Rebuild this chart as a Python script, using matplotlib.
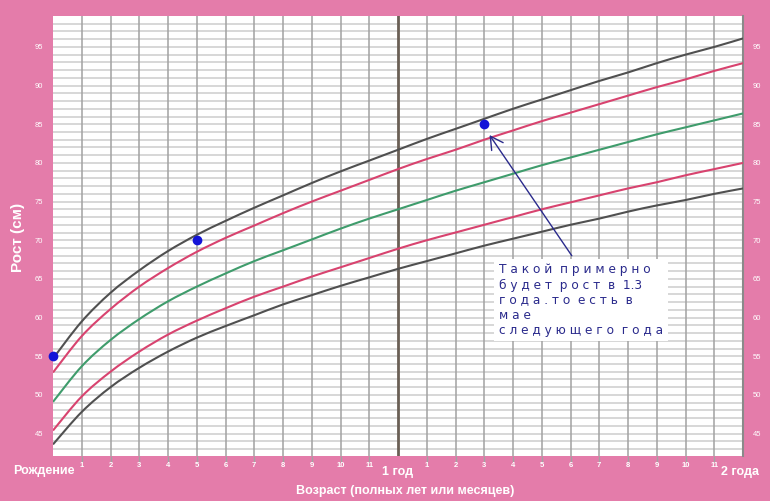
import numpy as np
import matplotlib.pyplot as plt
from matplotlib.path import Path
from matplotlib.patches import PathPatch

# возраст в месяцах и кривые роста (см)
months = np.arange(0, 25)
plus3 = [54.7, 59.5, 63.2, 66.1, 68.6, 70.7, 72.5, 74.2, 75.8, 77.4, 78.9, 80.3, 81.7,
         83.1, 84.4, 85.7, 87.0, 88.2, 89.4, 90.6, 91.7, 92.9, 94.0, 95.0, 96.1]
plus2 = [52.9, 57.6, 61.1, 64.0, 66.4, 68.5, 70.3, 71.9, 73.5, 75.0, 76.4, 77.8, 79.2,
         80.5, 81.7, 83.0, 84.2, 85.4, 86.5, 87.6, 88.7, 89.8, 90.8, 91.9, 92.9]
median = [49.1, 53.7, 57.1, 59.8, 62.1, 64.0, 65.7, 67.3, 68.7, 70.1, 71.5, 72.8, 74.0,
          75.2, 76.4, 77.5, 78.6, 79.7, 80.7, 81.7, 82.7, 83.7, 84.6, 85.5, 86.4]
minus2 = [45.4, 49.8, 53.0, 55.6, 57.8, 59.6, 61.2, 62.7, 64.0, 65.3, 66.5, 67.7, 68.9,
          70.0, 71.0, 72.0, 73.0, 74.0, 74.9, 75.8, 76.7, 77.5, 78.4, 79.2, 80.0]
minus3 = [43.6, 47.8, 51.0, 53.5, 55.6, 57.4, 58.9, 60.3, 61.7, 62.9, 64.1, 65.2, 66.3,
          67.3, 68.3, 69.3, 70.2, 71.1, 72.0, 72.8, 73.7, 74.5, 75.2, 76.0, 76.7]

# замеры ребёнка
pts_x = [0, 5, 15]
pts_y = [55, 70, 85]

ytick_vals = [45, 50, 55, 60, 65, 70, 75, 80, 85, 90, 95]
note_lines = ["Такой примерно", "будет рост в 1.3", "года.то есть в", "мае", "следующего года"]

pink = '#e47caa'
dark = '#505050'
red = '#d8436f'
green = '#3f9c6c'
navy = '#2a2a8c'

plt.rcParams['font.family'] = ['Liberation Sans', 'DejaVu Sans']


def smooth_curve(ax, xs, ys, color):
    # гладкая кривая через точки (кубические сегменты Безье)
    p = np.column_stack([xs, ys]).astype(float)
    ext = np.vstack([p[0], p, p[-1]])
    verts = [p[0]]
    codes = [Path.MOVETO]
    for i in range(len(p) - 1):
        c1 = ext[i + 1] + (ext[i + 2] - ext[i]) / 6
        c2 = ext[i + 2] - (ext[i + 3] - ext[i + 1]) / 6
        verts += [c1, c2, p[i + 1]]
        codes += [Path.CURVE4] * 3
    ax.add_patch(PathPatch(Path(verts, codes), fc='none', ec=color, lw=1.5, zorder=3))


fig = plt.figure(figsize=(7.7, 5.01), dpi=100, facecolor=pink)
ax = fig.add_axes([53/770, 45/501, 690/770, 440/501])
ax.set_facecolor('white')
ax.set_xlim(0, 24)
ax.set_ylim(42.1, 99)

# сетка
for v in range(43, 99):
    ax.axhline(v, color='#cdcdcd', lw=1.1, zorder=1)
for m in range(1, 24):
    if m == 12:
        continue
    ax.axvline(m, color='#a2a2a2', lw=1.1, zorder=1)
ax.axvline(12, color='#6a5f55', lw=2, zorder=2)

for series, col in [(plus3, dark), (plus2, red), (median, green), (minus2, red), (minus3, dark)]:
    smooth_curve(ax, months, series, col)

ax.plot(pts_x, pts_y, 'o', color='#1414d8', ms=6, zorder=5, clip_on=False)

# оси и подписи
for s in ['left', 'top', 'bottom']:
    ax.spines[s].set_visible(False)
ax.spines['right'].set_color('#8a8a8a')
ax.spines['right'].set_linewidth(1.5)

ax.set_yticks(ytick_vals)
ax.set_yticklabels([str(v) for v in ytick_vals])
ax.tick_params(axis='y', length=0, pad=7, labelsize=5.5, labelcolor='white',
               labelright=True, right=False)
xt = [m for m in range(1, 24) if m != 12]
ax.set_xticks(xt)
ax.set_xticklabels([str(m % 12) for m in xt], fontweight='bold')
ax.tick_params(axis='x', length=4, width=1, color='#a2a2a2', pad=0.5,
               labelsize=5.5, labelcolor='white')

ax.text(-0.3, 40.1, 'Рождение', color='white', fontsize=9, fontweight='bold',
        ha='center', va='center', clip_on=False)
ax.text(12, 40.0, '1 год', color='white', fontsize=9, fontweight='bold',
        ha='center', va='center', clip_on=False)
ax.text(23.9, 40.0, '2 года', color='white', fontsize=9, fontweight='bold',
        ha='center', va='center', clip_on=False)
fig.text(405/770, 1 - 491/501, 'Возраст (полных лет или месяцев)', color='white',
         fontsize=9, fontweight='bold', ha='center', va='center')
fig.text(18/770, 1 - 237/501, 'Рост (см)', color='white', fontsize=11,
         fontweight='bold', rotation=90, ha='center', va='center')

# пояснение со стрелкой
spaced = '\n'.join('  '.join(' '.join(w) for w in line.split(' ')) for line in note_lines)
spaced = spaced.replace('1 . 3', '1.3')
ax.text(15.5, 67.0, spaced, color=navy, fontsize=8.7, ha='left', va='top',
        linespacing=1.2, zorder=6, family='DejaVu Sans',
        bbox=dict(boxstyle='square,pad=0.4', fc='white', ec='none'))
ax.annotate('', xy=(15.13, 83.9), xytext=(18.1, 67.7),
            arrowprops=dict(arrowstyle='->,head_length=0.9,head_width=0.5',
                            color=navy, lw=1), zorder=7)

fig.savefig('out.png', dpi=100, facecolor=pink)
